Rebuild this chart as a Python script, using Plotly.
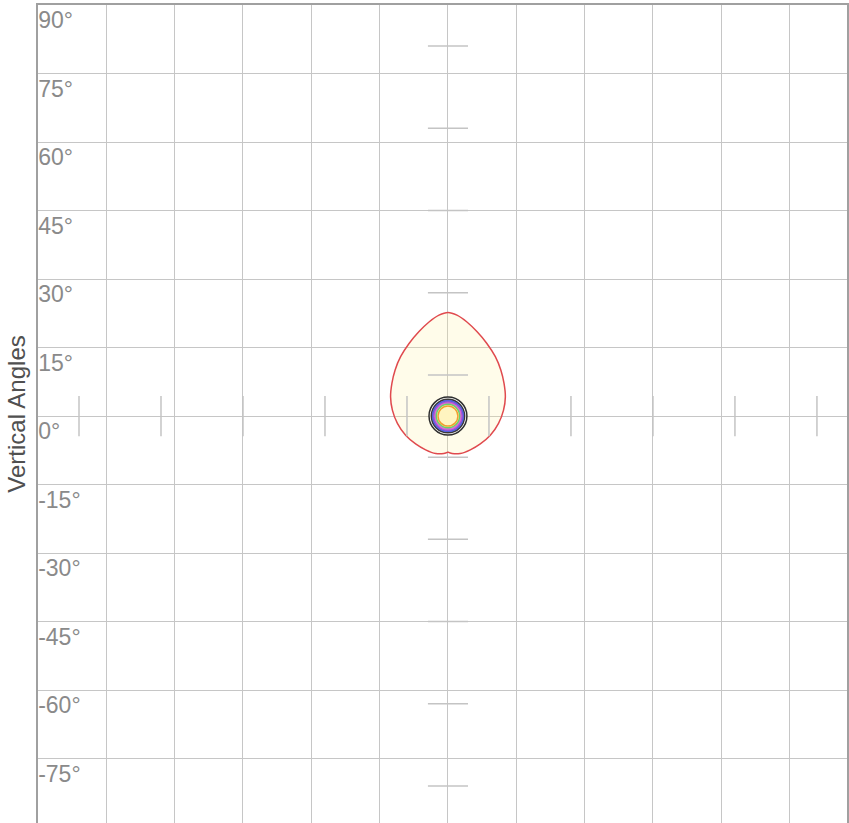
import plotly.graph_objects as go

# ---- data ----
y_tick_vals = [90, 75, 60, 45, 30, 15, 0, -15, -30, -45, -60, -75]
y_tick_text = ["90°", "75°", "60°", "45°", "30°", "15°", "0°", "-15°", "-30°", "-45°", "-60°", "-75°"]

# outer (red) isocandela contour, left half from top to bottom (degrees)
contour_left_x = [0.0, -1.97, -4.16, -6.35, -8.54, -10.4, -11.6, -12.3, -12.6, -12.2, -11.1, -9.3, -7.1, -4.9, -2.7, -0.9, 0.0]
contour_left_y = [22.7, 22.1, 20.6, 18.5, 15.9, 13.0, 10.1, 7.2, 4.2, 1.3, -1.6, -4.2, -6.1, -7.4, -8.2, -8.2, -7.9]

# inner contours: concentric rings around the peak
ring_radii = [4.16, 3.66, 3.35, 3.05, 2.8, 2.56, 2.19]
ring_line_colors = ["#2e2e2e", "#3a3a3a", "#5560dc", "#a455d6", "#dc6ad8", "#66d466", "#f0a030"]
ring_fill_colors = ["rgba(255,255,255,0.9)", "#6068d8", "#a45ad6", "#e07ae0", "#f8eef6", "#fcf6d8", "#fff4c0"]

# short marker ticks along the centre axes (degrees)
marker_ticks = [-81, -63, -45, -27, -9, 9, 27, 45, 63, 81]
marker_half_len = 4.4

# ---- figure ----
cx = contour_left_x + [-v for v in reversed(contour_left_x)]
cy = contour_left_y + list(reversed(contour_left_y))

fig = go.Figure()
fig.add_trace(go.Scatter(
    x=cx, y=cy, mode="lines", fill="toself",
    fillcolor="rgba(255,240,150,0.2)",
    line=dict(color="#e04a4e", width=1.5, shape="spline", smoothing=1.0),
    hoverinfo="skip", showlegend=False,
))

shapes = []
for r, lc, fc in zip(ring_radii, ring_line_colors, ring_fill_colors):
    shapes.append(dict(type="circle", xref="x", yref="y", x0=-r, x1=r, y0=-r, y1=r,
                       line=dict(color=lc, width=1.5), fillcolor=fc, layer="above"))
for t in marker_ticks:
    shapes.append(dict(type="line", xref="x", yref="y", x0=t, x1=t,
                       y0=-marker_half_len, y1=marker_half_len,
                       line=dict(color="#c4c4c4", width=1.5), layer="above"))
    shapes.append(dict(type="line", xref="x", yref="y", y0=t, y1=t,
                       x0=-marker_half_len, x1=marker_half_len,
                       line=dict(color="#c4c4c4", width=1.5), layer="above"))

fig.update_layout(
    width=849, height=823,
    margin=dict(l=38, r=0, t=5, b=0),
    paper_bgcolor="white", plot_bgcolor="white",
    font=dict(family="Liberation Sans, Arial, sans-serif"),
    shapes=shapes,
    showlegend=False,
)
fig.update_xaxes(
    range=[-90, 87.6], dtick=15, tick0=0, showticklabels=False,
    showgrid=True, gridcolor="#c6c6c6", gridwidth=1,
    zeroline=False, showline=True, linecolor="#a0a0a0", linewidth=1.5, mirror=True,
    ticks="",
)
fig.update_yaxes(
    range=[-89.1, 90], tickvals=y_tick_vals, ticktext=y_tick_text,
    ticklabelposition="inside", ticklabelshift=15, ticklabelstandoff=2,
    ticklabeloverflow="allow",
    tickfont=dict(size=23, color="#8a8a8a"),
    showgrid=True, gridcolor="#c6c6c6", gridwidth=1,
    zeroline=False, showline=True, linecolor="#a0a0a0", linewidth=1.5, mirror=True,
    ticks="",
    title=dict(text="Vertical Angles", font=dict(size=24, color="#505050"), standoff=6),
)

fig.write_html("out.html", config={"displayModeBar": False},
               post_script="document.body.style.margin='0';document.body.style.overflow='hidden';")
